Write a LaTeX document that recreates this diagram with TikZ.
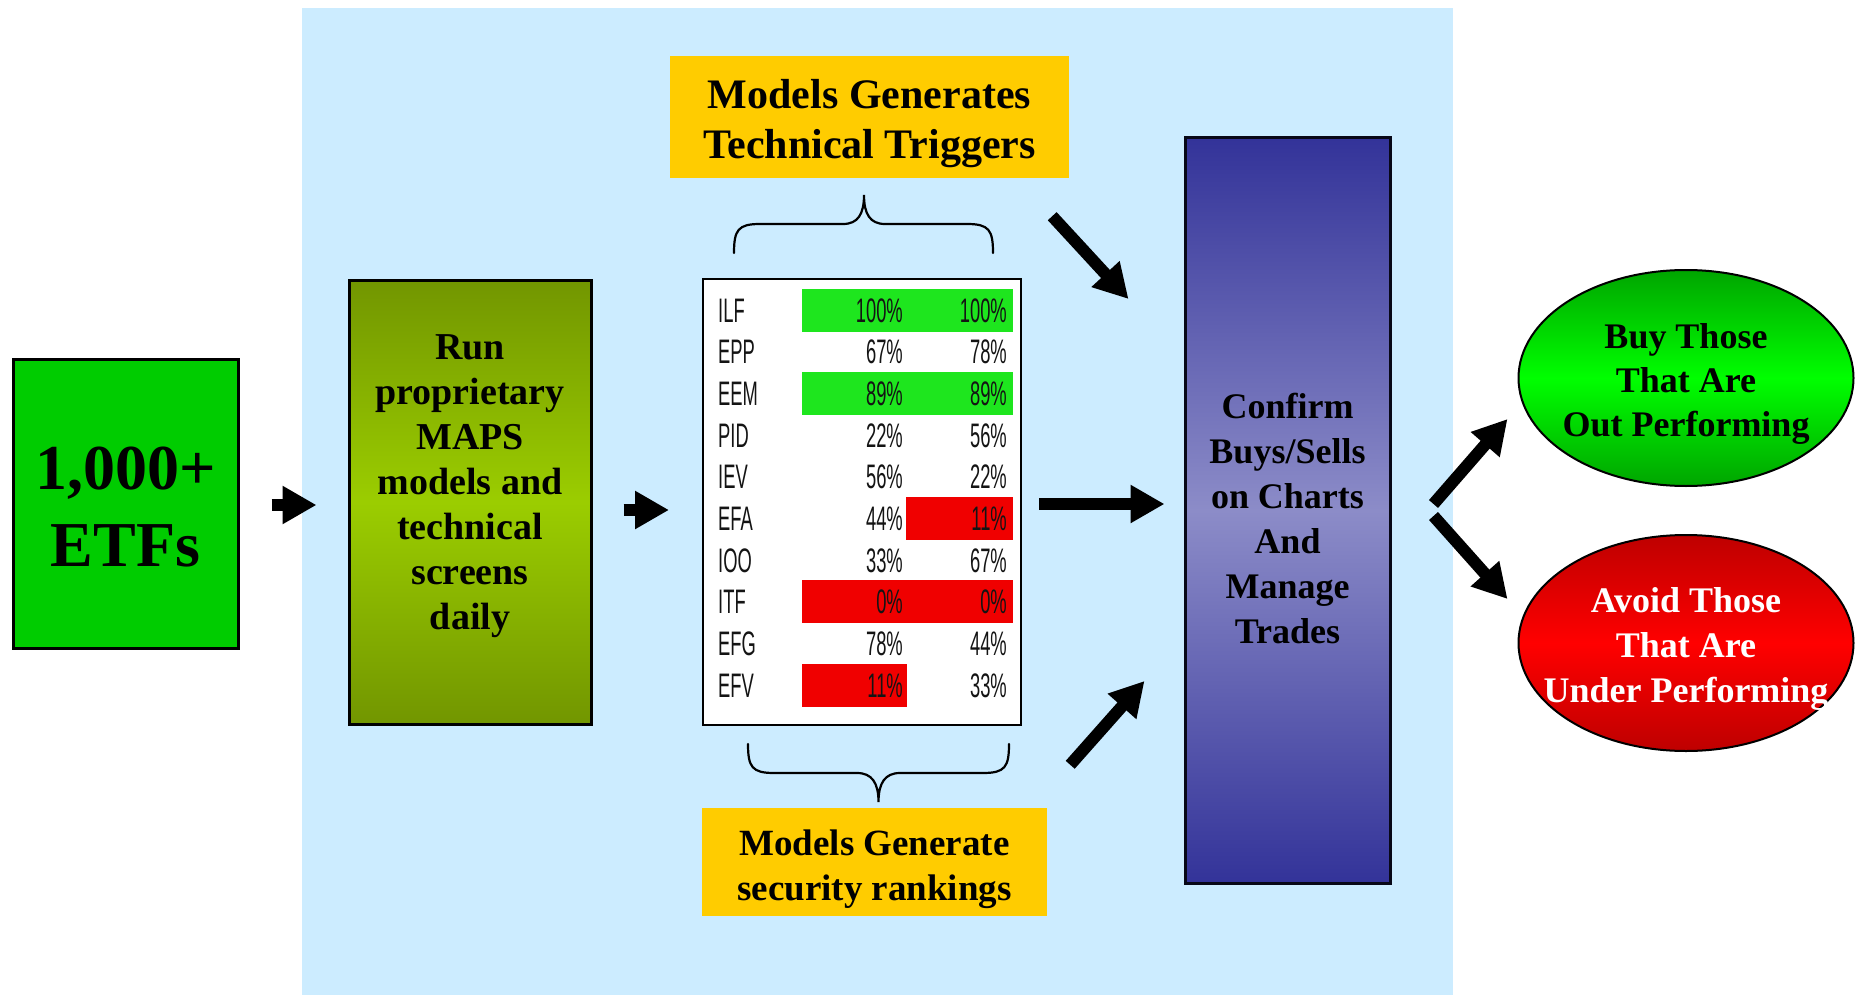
\documentclass[tikz,border=0pt]{standalone}
\usepackage{fontspec}
\setmainfont{Liberation Serif}
\newfontfamily\tblfont[FakeStretch=0.54]{Liberation Sans}
\usetikzlibrary{arrows.meta,shapes.geometric}

\definecolor{panelblue}{RGB}{204,236,255}
\definecolor{etfgreen}{RGB}{0,204,0}
\definecolor{olivedark}{RGB}{114,150,0}
\definecolor{olivelight}{RGB}{155,205,0}
\definecolor{gold}{RGB}{255,204,0}
\definecolor{navy}{RGB}{51,51,153}
\definecolor{lavender}{RGB}{140,140,200}
\definecolor{buydark}{RGB}{0,165,0}
\definecolor{buylight}{RGB}{0,255,0}
\definecolor{avoiddark}{RGB}{190,0,0}
\definecolor{avoidlight}{RGB}{255,0,0}
\definecolor{hitgreen}{RGB}{30,230,30}
\definecolor{hitred}{RGB}{240,0,0}
\definecolor{tbltext}{RGB}{20,20,20}

\begin{document}
\begin{tikzpicture}[x=1pt,y=-1pt,
  box/.style={draw=black, line width=3pt, inner sep=0pt},
  heavy/.style={line width=12pt, -{Triangle[length=34pt,width=36pt]}},
  brace/.style={line width=2.2pt, line cap=round},
  cell/.style={inner sep=0pt, font=\tblfont\fontsize{34pt}{40pt}\selectfont, text=tbltext},
  hit/.style={inner sep=0pt, minimum height=43pt},
  bold/.style 2 args={font=\bfseries\fontsize{#1}{#2}\selectfont, align=center, inner sep=0pt},
]
\useasboundingbox (0,0) rectangle (1860,995);

% light blue working area
\node[fill=panelblue, inner sep=0pt, minimum width=1151pt, minimum height=987pt,
      anchor=north west] (panel) at (302,8) {};

% universe of funds
\node[box, fill=etfgreen, minimum width=225pt, minimum height=289pt] (etf) at (125.5,503.5) {};
\node[bold={64pt}{77pt}] (etftext) at (125.5,507) {1,000+\\ETFs};

% screening models
\node[box, top color=olivedark, bottom color=olivedark, middle color=olivelight,
      minimum width=242pt, minimum height=444pt] (run) at (470,502) {};
\node[bold={38pt}{45pt}] (runtext) at (470,486)
  {Run\\proprietary\\MAPS\\models and\\technical\\screens\\daily};

% ranking table
\node[draw=black, line width=2pt, fill=white, minimum width=318pt, minimum height=446pt, inner sep=0pt] (tbl) at (862,502) {};
\node[hit, fill=hitgreen, minimum width=211pt] (hitILF) at (907.5,310) {};
\node[hit, fill=hitgreen, minimum width=211pt] (hitEEM) at (907.5,393.3) {};
\node[hit, fill=hitred, minimum width=107pt] (hitEFA) at (959.5,518.4) {};
\node[hit, fill=hitred, minimum width=211pt] (hitITF) at (907.5,601.7) {};
\node[hit, fill=hitred, minimum width=105pt] (hitEFV) at (854.5,685) {};
\foreach \tk/\va/\vb [count=\i from 0] in {ILF/100/100, EPP/67/78, EEM/89/89, PID/22/56, IEV/56/22,
                                           EFA/44/11, IOO/33/67, ITF/0/0, EFG/78/44, EFV/11/33}{
  \pgfmathsetmacro\yc{310+41.67*\i}
  \node[cell, anchor=base west] (tk\i) at (718,\yc+12) {\tk};
  \node[cell, anchor=base east] (va\i) at (903,\yc+12) {\va\%};
  \node[cell, anchor=base east] (vb\i) at (1007,\yc+12) {\vb\%};
}

% captions above and below the table
\node[fill=gold, minimum width=399pt, minimum height=122pt, inner sep=0pt] (trig) at (869.5,117) {};
\node[bold={42pt}{50pt}] (trigtext) at (869.5,124) {Models Generates\\Technical Triggers};
\node[fill=gold, minimum width=345pt, minimum height=108pt, inner sep=0pt] (rank) at (874.5,862) {};
\node[bold={37pt}{45pt}] (ranktext) at (874.5,869) {Models Generate\\security rankings};

% braces
\draw[brace] (734,253) .. controls (734,230) and (738,224) .. (760,224) -- (843,224)
  .. controls (858,224) and (864,214) .. (864,195)
  .. controls (864,214) and (870,224) .. (885,224) -- (967,224)
  .. controls (989,224) and (993,230) .. (993,253);
\draw[brace] (748,744) .. controls (748,767) and (752,773) .. (774,773) -- (857,773)
  .. controls (872,773) and (878.5,783) .. (878.5,802)
  .. controls (878.5,783) and (885,773) .. (900,773) -- (983,773)
  .. controls (1005,773) and (1009,767) .. (1009,744);

% trade confirmation
\node[box, draw=black!85!navy, top color=navy, bottom color=navy, middle color=lavender,
      minimum width=205pt, minimum height=745pt] (confirm) at (1287.5,510.5) {};
\node[bold={36pt}{45pt}] (confirmtext) at (1287.5,518)
  {Confirm\\Buys/Sells\\on Charts\\And\\Manage\\Trades};

% outcomes
\node[ellipse, draw=black, line width=2pt, top color=buydark, bottom color=buydark, middle color=buylight,
      minimum width=335pt, minimum height=216pt, inner sep=0pt] (buy) at (1686,378) {};
\node[bold={36pt}{44pt}] (buytext) at (1686,384) {Buy Those\\That Are\\Out Performing};
\node[ellipse, draw=black, line width=2pt, top color=avoiddark, bottom color=avoiddark, middle color=avoidlight,
      minimum width=335pt, minimum height=216pt, inner sep=0pt] (avoid) at (1686,643) {};
\node[bold={36pt}{45pt}, text=white] (avoidtext) at (1686,649) {Avoid Those\\That Are\\Under Performing};

% flow arrows
\draw[heavy] ([xshift=32pt,yshift=-1.5pt]etf.east) -- ([xshift=-31pt,yshift=-3pt]run.west);
\draw[heavy] ([xshift=31pt,yshift=-8pt]run.east) -- ([xshift=-33pt,yshift=-8pt]tbl.west);
\draw[heavy] ([xshift=17pt,yshift=-2pt]tbl.east) -- ([xshift=-19pt,yshift=6.5pt]confirm.west);
\draw[heavy] ([xshift=-17pt,yshift=-38pt]trig.south east) -- ([xshift=-55pt,yshift=211.5pt]confirm.west);
\draw[heavy] ([xshift=23pt,yshift=43pt]rank.north east) -- ([xshift=-39pt,yshift=-170.5pt]confirm.west);
\draw[heavy] ([xshift=42pt,yshift=6.5pt]confirm.east) -- ([xshift=-10pt,yshift=-41pt]buy.west);
\draw[heavy] ([xshift=42pt,yshift=-5.5pt]confirm.east) -- ([xshift=-10pt,yshift=44pt]avoid.west);
\end{tikzpicture}
\end{document}
